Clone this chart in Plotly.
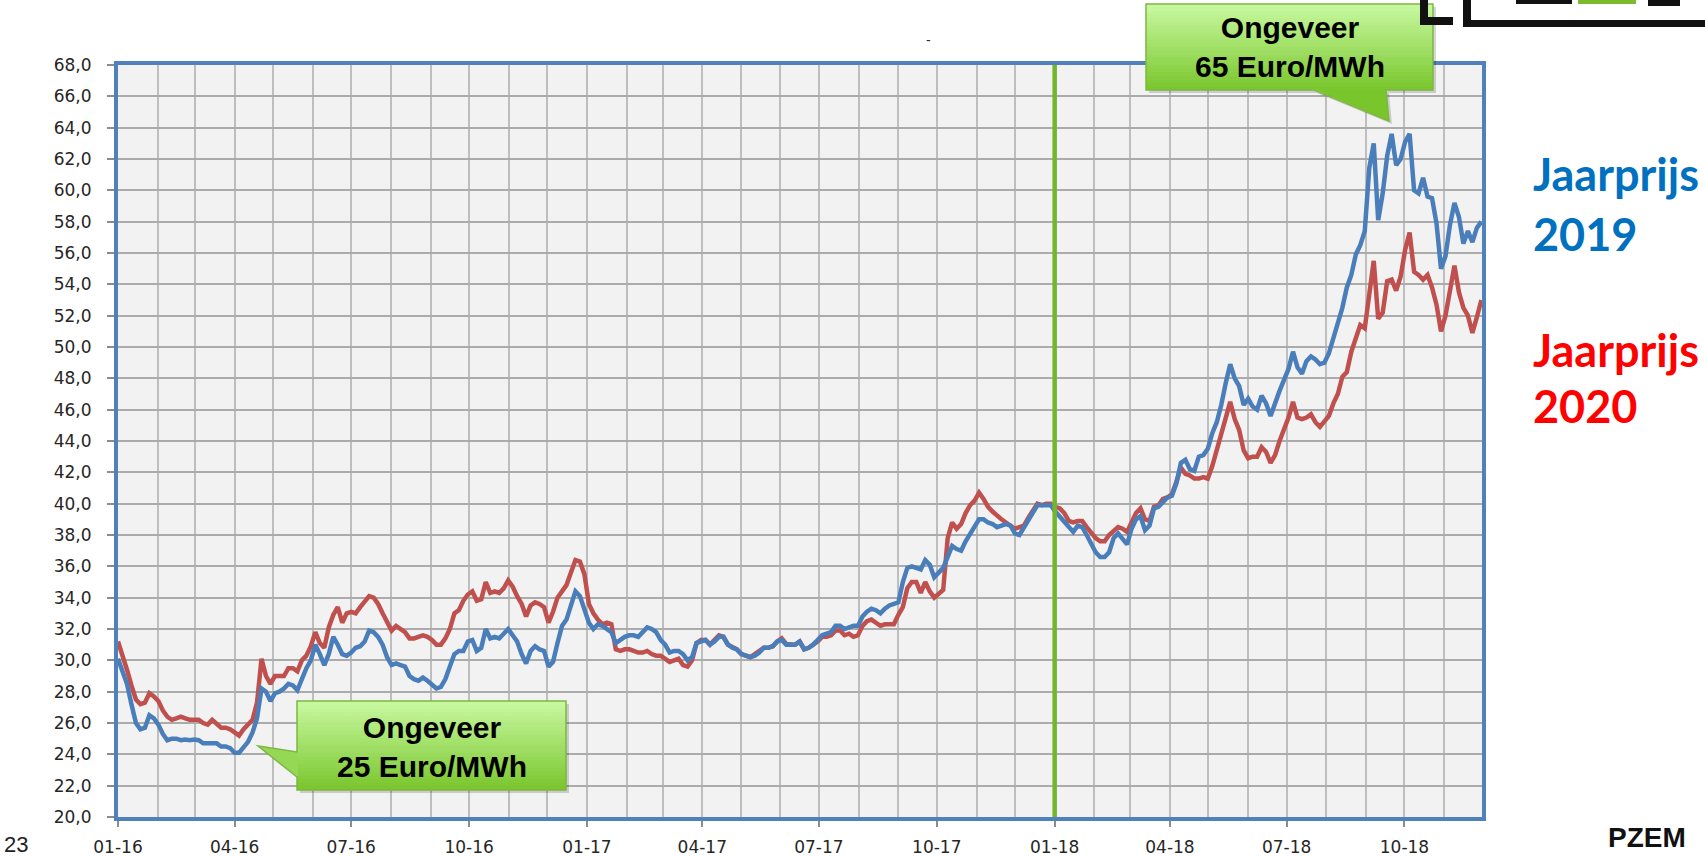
import plotly.graph_objects as go
import pandas as pd

# ---------------- data (every half week) ----------------
start_date = "2016-01-01"
n_points = 305
dates = pd.date_range(start_date, periods=n_points, freq="84h")

jaarprijs_2019 = [
    30.1, 29.2, 28.5, 27.2, 26.0, 25.6, 25.7, 26.5, 26.3, 25.9,
    25.3, 24.9, 25.0, 25.0, 24.9, 24.95, 24.9, 24.95, 24.9, 24.7,
    24.7, 24.7, 24.7, 24.5, 24.5, 24.4, 24.1, 24.1, 24.4, 24.8,
    25.4, 26.3, 28.2, 28.0, 27.4, 27.9, 28.0, 28.2, 28.5, 28.4,
    28.1, 28.9, 29.5, 30.0, 31.0, 30.4, 29.7, 30.4, 31.5, 31.0,
    30.4, 30.3, 30.5, 30.8, 30.9, 31.2, 31.9, 31.8, 31.5, 31.0,
    30.2, 29.7, 29.8, 29.7, 29.6, 29.0, 28.8, 28.7, 28.9, 28.7,
    28.4, 28.2, 28.3, 28.8, 29.6, 30.4, 30.6, 30.6, 31.2, 31.3,
    30.6, 30.8, 32.0, 31.4, 31.5, 31.4, 31.7, 32.0, 31.6, 31.2,
    30.4, 29.8, 30.6, 30.9, 30.7, 30.6, 29.6, 29.9, 31.1, 32.2,
    32.6, 33.6, 34.4, 34.1, 33.3, 32.4, 32.0, 32.3, 32.2, 32.0,
    31.8, 31.1, 31.3, 31.5, 31.6, 31.6, 31.5, 31.8, 32.1, 32.0,
    31.8, 31.3, 31.0, 30.5, 30.6, 30.6, 30.4, 30.0, 30.2, 31.1,
    31.2, 31.3, 31.0, 31.2, 31.5, 31.5, 31.0, 30.8, 30.7, 30.4,
    30.3, 30.2, 30.3, 30.5, 30.8, 30.8, 30.9, 31.2, 31.3, 31.0,
    31.0, 31.0, 31.2, 30.7, 30.8, 31.0, 31.3, 31.6, 31.7, 31.8,
    32.2, 32.2, 32.0, 32.1, 32.2, 32.2, 32.8, 33.1, 33.3, 33.2,
    33.0, 33.3, 33.5, 33.6, 33.7, 35.0, 35.9, 36.0, 35.9, 35.8,
    36.4, 36.1, 35.3, 35.6, 35.9, 36.6, 37.3, 37.1, 37.0, 37.6,
    38.1, 38.5, 39.0, 39.0, 38.8, 38.7, 38.5, 38.6, 38.7, 38.6,
    38.1, 38.0, 38.5, 38.9, 39.4, 39.9, 39.9, 39.9, 39.9, 39.5,
    39.2, 38.8, 38.5, 38.2, 38.6, 38.5, 38.0, 37.5, 36.9, 36.6,
    36.6, 36.9, 37.8, 38.1, 37.7, 37.4, 38.4, 39.0, 39.2, 38.3,
    38.6, 39.7, 39.8, 40.1, 40.4, 40.5, 41.3, 42.6, 42.8, 42.2,
    42.1, 43.0, 43.1, 43.5, 44.5, 45.2, 46.3, 47.7, 48.9, 48.0,
    47.5, 46.3, 46.7, 46.2, 46.0, 46.9, 46.4, 45.6, 46.5, 47.2,
    47.9, 48.6, 49.7, 48.7, 48.3, 49.1, 49.4, 49.2, 48.9, 49.0,
    49.6, 50.6, 51.5, 52.5, 53.8, 54.6, 55.9, 56.5, 57.4, 61.4,
    63.0, 58.1, 59.8, 62.2, 63.6, 61.6, 62.0, 63.1, 63.6, 60.0,
    59.8, 60.8, 59.6, 59.5, 57.9, 55.0, 55.8, 57.8, 59.2, 58.3,
    56.6, 57.4, 56.7, 57.6, 58.0,
]

jaarprijs_2020 = [
    31.2, 30.4, 29.4, 28.4, 27.5, 27.2, 27.3, 27.9, 27.7, 27.4,
    26.8, 26.4, 26.2, 26.3, 26.4, 26.3, 26.2, 26.2, 26.2, 26.0,
    25.9, 26.2, 25.9, 25.7, 25.7, 25.6, 25.4, 25.2, 25.6, 25.9,
    26.2, 27.3, 30.1, 29.0, 28.5, 29.0, 29.0, 29.0, 29.5, 29.5,
    29.3, 30.0, 30.3, 30.9, 31.8, 31.1, 30.8, 32.1, 32.9, 33.4,
    32.4, 33.0, 33.1, 33.0, 33.4, 33.7, 34.1, 34.0, 33.6, 33.0,
    32.5, 31.9, 32.2, 32.0, 31.8, 31.4, 31.4, 31.5, 31.6, 31.5,
    31.3, 31.0, 31.0, 31.4, 32.0, 33.0, 33.2, 33.8, 34.2, 34.4,
    33.8, 33.9, 35.0, 34.3, 34.4, 34.3, 34.6, 35.1, 34.7, 34.1,
    33.6, 32.8, 33.5, 33.7, 33.6, 33.4, 32.4, 33.1, 34.0, 34.4,
    34.8, 35.6, 36.4, 36.3, 35.5, 33.6, 33.0, 32.6, 32.3, 32.4,
    32.3, 30.7, 30.6, 30.7, 30.7, 30.6, 30.5, 30.5, 30.6, 30.4,
    30.3, 30.3, 30.1, 29.9, 30.0, 30.1, 29.7, 29.6, 30.0, 31.1,
    31.3, 31.3, 31.0, 31.3, 31.6, 31.5, 31.0, 30.85, 30.7, 30.4,
    30.3, 30.2, 30.4, 30.6, 30.8, 30.8, 30.9, 31.2, 31.4, 31.05,
    31.0, 31.0, 31.2, 30.7, 30.8, 31.0, 31.2, 31.5, 31.5, 31.6,
    31.9, 31.9, 31.6, 31.7, 31.5, 31.6, 32.2, 32.5, 32.6, 32.4,
    32.2, 32.3, 32.3, 32.3, 32.9, 33.4, 34.6, 35.0, 35.0, 34.3,
    35.0, 34.4, 34.0, 34.3, 34.5, 37.8, 38.8, 38.4, 38.7, 39.4,
    39.9, 40.2, 40.7, 40.3, 39.8, 39.5, 39.2, 39.0, 38.8, 38.6,
    38.4, 38.5, 38.6, 39.1, 39.6, 40.0, 39.9, 40.0, 40.0, 39.8,
    39.7, 39.4, 38.9, 38.8, 38.9, 38.9, 38.5, 38.1, 37.8, 37.6,
    37.6, 38.0, 38.3, 38.5, 38.4, 38.2, 38.8, 39.4, 39.7, 39.0,
    38.9, 39.8, 39.9, 40.3, 40.4, 40.6, 41.4, 42.3, 41.9, 41.8,
    41.6, 41.6, 41.7, 41.6, 42.4, 43.4, 44.4, 45.3, 46.5, 45.4,
    44.7, 43.4, 42.9, 43.0, 43.0, 43.6, 43.3, 42.6, 43.1, 44.0,
    44.7, 45.5, 46.5, 45.5, 45.4, 45.5, 45.7, 45.2, 44.9, 45.2,
    45.6, 46.4, 47.0, 48.1, 48.4, 49.7, 50.6, 51.4, 51.2, 53.5,
    55.5, 51.8, 52.2, 54.2, 54.3, 53.6, 54.5, 56.2, 57.3, 54.8,
    54.6, 54.3, 54.6, 53.8, 52.7, 51.0, 52.0, 53.6, 55.2, 53.5,
    52.5, 52.0, 50.9, 51.9, 53.0,
]

x_range = ["2016-01-01", "2018-11-30 12:00"]
y_range = [20, 68]
marker_date = "2018-01-01"

label_2019 = ["Jaarprijs", "2019"]
label_2020 = ["Jaarprijs", "2020"]
callout_high = "Ongeveer<br>65 Euro/MWh"
callout_low = "Ongeveer<br>25 Euro/MWh"

# ---------------- layout geometry ----------------
W, H = 1705, 856
L, R, T, B = 118, 223, 65, 39
PW, PH = W - L - R, H - T - B


def px(x):
    return (x - L) / PW


def py(y):
    return (H - B - y) / PH


BLUE = "#4A7EBB"
RED = "#C0504D"
FRAME = "#4F81BD"

fig = go.Figure()
fig.add_trace(go.Scatter(x=dates, y=jaarprijs_2020, mode="lines",
                         line=dict(color=RED, width=4.5), name="Jaarprijs 2020"))
fig.add_trace(go.Scatter(x=dates, y=jaarprijs_2019, mode="lines",
                         line=dict(color=BLUE, width=4.5), name="Jaarprijs 2019"))

shapes = []
# green marker line at 01-18
shapes.append(dict(type="line", xref="x", yref="paper", x0=marker_date, x1=marker_date,
                   y0=0, y1=1, line=dict(color="#72B62C", width=4.5), layer="above"))


def lerp_color(c0, c1, t):
    a = [int(c0[i:i + 2], 16) for i in (1, 3, 5)]
    b = [int(c1[i:i + 2], 16) for i in (1, 3, 5)]
    return "rgb(%d,%d,%d)" % tuple(round(a[k] + (b[k] - a[k]) * t) for k in range(3))


TOPC, BOTC, EDGE = "#C9F9A2", "#79C62C", "#7DB83F"


def callout(x0, y0, x1, y1, outline_pts, pointer_pts, pointer_t):
    pts_s = " L ".join("%f,%f" % (px(a + 3), py(b + 3)) for a, b in outline_pts)
    shapes.append(dict(type="path", xref="paper", yref="paper", path="M " + pts_s + " Z",
                       fillcolor="rgba(0,0,0,0.16)", line=dict(width=0), layer="above"))
    n = 24
    for k in range(n):
        ya = y0 + (y1 - y0) * k / n
        yb = y0 + (y1 - y0) * (k + 1) / n + 0.6
        shapes.append(dict(type="rect", xref="paper", yref="paper",
                           x0=px(x0), x1=px(x1), y0=py(ya), y1=py(min(yb, y1)),
                           fillcolor=lerp_color(TOPC, BOTC, (k + 0.5) / n),
                           line=dict(width=0), layer="above"))
    pts_p = " L ".join("%f,%f" % (px(a), py(b)) for a, b in pointer_pts)
    shapes.append(dict(type="path", xref="paper", yref="paper", path="M " + pts_p + " Z",
                       fillcolor=lerp_color(TOPC, BOTC, pointer_t),
                       line=dict(width=0), layer="above"))
    pts_o = " L ".join("%f,%f" % (px(a), py(b)) for a, b in outline_pts)
    shapes.append(dict(type="path", xref="paper", yref="paper", path="M " + pts_o + " Z",
                       fillcolor="rgba(0,0,0,0)", line=dict(color=EDGE, width=1.5),
                       layer="above"))


# upper callout (pointer down to the 2018 peak)
callout(1146, 4, 1433, 90,
        [(1146, 4), (1433, 4), (1433, 90), (1386, 90), (1389, 121), (1314, 90), (1146, 90)],
        [(1314, 89), (1389, 121), (1386, 89)], 1.0)
# lower callout (pointer left to the 2016 low)
callout(297, 701, 566, 790,
        [(297, 701), (566, 701), (566, 790), (297, 790), (297, 777), (258, 746), (297, 752)],
        [(298, 752), (258, 746), (298, 777)], 0.65)

# logo remnants at the top-right edge of the slide
for (a, b, c, d, col) in [(1420, 0, 1428, 25, "#111111"), (1420, 17, 1453, 25, "#111111"),
                          (1463, 0, 1471, 27, "#111111"), (1463, 20, 1705, 27, "#111111"),
                          (1516, 0, 1572, 4, "#111111"), (1578, 0, 1636, 4, "#7DBB2E"),
                          (1648, 0, 1680, 6, "#111111")]:
    shapes.append(dict(type="rect", xref="paper", yref="paper", x0=px(a), x1=px(c),
                       y0=py(b), y1=py(d), fillcolor=col, line=dict(width=0), layer="above"))

CALL_FONT = dict(family="Liberation Sans, Arial", size=30, color="black", weight="bold")
annotations = [
    dict(xref="paper", yref="paper", x=px(1289.5), y=py(47), text=callout_high,
         showarrow=False, xanchor="center", yanchor="middle", font=CALL_FONT),
    dict(xref="paper", yref="paper", x=px(431.5), y=py(747), text=callout_low,
         showarrow=False, xanchor="center", yanchor="middle", font=CALL_FONT),
]

side_font = dict(family="Lato", size=45, weight="bold")
for txt, yc, col in [(label_2019[0], 174, "#0070C0"), (label_2019[1], 234, "#0070C0"),
                     (label_2020[0], 350, "#FF0000"), (label_2020[1], 406, "#FF0000")]:
    annotations.append(dict(xref="paper", yref="paper", x=px(1531), y=py(yc), text=txt,
                            showarrow=False, xanchor="left", yanchor="middle",
                            font=dict(side_font, color=col)))

# slide remnants: page number, stray dash and logo text
annotations.append(dict(xref="paper", yref="paper", x=px(2), y=py(845), text="23",
                        showarrow=False, xanchor="left", yanchor="middle",
                        font=dict(family="Liberation Sans, Arial", size=22, color="#222")))
annotations.append(dict(xref="paper", yref="paper", x=px(928), y=py(40), text="-",
                        showarrow=False, xanchor="center", yanchor="middle",
                        font=dict(family="Liberation Sans, Arial", size=14, color="#333")))
annotations.append(dict(xref="paper", yref="paper", x=px(1606), y=py(837), text="PZEM",
                        showarrow=False, xanchor="left", yanchor="middle",
                        font=dict(family="Liberation Sans, Arial", size=28, color="#111",
                                  weight="bold")))

fig.update_layout(
    width=W, height=H,
    margin=dict(l=L, r=R, t=T, b=B, autoexpand=False),
    paper_bgcolor="white",
    plot_bgcolor="#F2F2F2",
    showlegend=False,
    separators=",.",
    shapes=shapes,
    annotations=annotations,
    font=dict(family="DejaVu Sans", size=16, color="#262626"),
)

fig.update_xaxes(
    type="date", range=x_range, tick0="2016-01-01", dtick="M3", tickformat="%m-%y",
    ticks="outside", ticklen=6, tickwidth=1.5, tickcolor="#8C8C8C",
    showgrid=True, gridcolor="#BEBEBE", gridwidth=1.5,
    minor=dict(dtick="M1", showgrid=True, gridcolor="#BEBEBE", gridwidth=1.5, ticks=""),
    showline=True, linecolor=FRAME, linewidth=4, mirror=True,
    ticklabelstandoff=6, zeroline=False, automargin=False,
    tickfont=dict(family="DejaVu Sans", size=17, color="#262626"),
)
fig.update_yaxes(
    range=y_range, dtick=2, tick0=20, tickformat=".1f",
    ticks="outside", ticklen=7, tickwidth=1.5, tickcolor="#8C8C8C",
    showgrid=True, gridcolor="#ABABAB", gridwidth=1.5,
    showline=True, linecolor=FRAME, linewidth=4, mirror=True,
    ticklabelstandoff=12, zeroline=False, automargin=False,
    tickfont=dict(family="DejaVu Sans", size=17, color="#262626"),
)

fig.write_html("out.html",
               config={"displayModeBar": False},
               post_script="document.body.style.margin='0px';"
                           "document.body.style.overflow='hidden';")
